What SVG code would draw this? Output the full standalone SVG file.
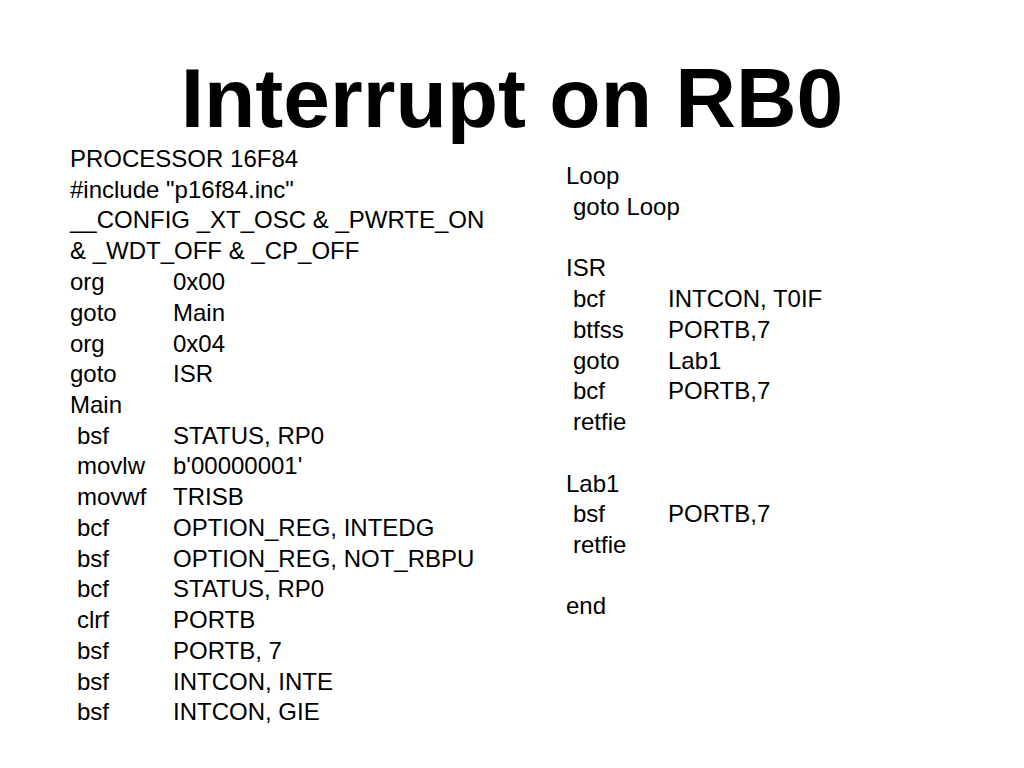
<svg xmlns="http://www.w3.org/2000/svg" width="1024" height="768" viewBox="0 0 1024 768">
<style>
text{font-family:"Liberation Sans",Arial,sans-serif;fill:#000}
.t{font-size:84px;font-weight:bold}
.c{font-size:24px}
</style>
<rect width="1024" height="768" fill="#fff"/>
<text class="t" x="512" y="127" text-anchor="middle">Interrupt on RB0</text>
<g id="left" class="c">
<text class="c" x="70" y="167">PROCESSOR 16F84</text>
<text class="c" x="70" y="198">#include "p16f84.inc"</text>
<text class="c" x="70" y="228">__CONFIG _XT_OSC &amp; _PWRTE_ON</text>
<text class="c" x="70" y="259">&amp; _WDT_OFF &amp; _CP_OFF</text>
<text class="c" x="70" y="290">org</text><text class="c" x="173" y="290">0x00</text>
<text class="c" x="70" y="321">goto</text><text class="c" x="173" y="321">Main</text>
<text class="c" x="70" y="352">org</text><text class="c" x="173" y="352">0x04</text>
<text class="c" x="70" y="382">goto</text><text class="c" x="173" y="382">ISR</text>
<text class="c" x="70" y="413">Main</text>
<text class="c" x="77" y="444">bsf</text><text class="c" x="173" y="444">STATUS, RP0</text>
<text class="c" x="77" y="474">movlw</text><text class="c" x="173" y="474">b'00000001'</text>
<text class="c" x="77" y="505">movwf</text><text class="c" x="173" y="505">TRISB</text>
<text class="c" x="77" y="536">bcf</text><text class="c" x="173" y="536">OPTION_REG, INTEDG</text>
<text class="c" x="77" y="567">bsf</text><text class="c" x="173" y="567">OPTION_REG, NOT_RBPU</text>
<text class="c" x="77" y="597">bcf</text><text class="c" x="173" y="597">STATUS, RP0</text>
<text class="c" x="77" y="628">clrf</text><text class="c" x="173" y="628">PORTB</text>
<text class="c" x="77" y="659">bsf</text><text class="c" x="173" y="659">PORTB, 7</text>
<text class="c" x="77" y="690">bsf</text><text class="c" x="173" y="690">INTCON, INTE</text>
<text class="c" x="77" y="720">bsf</text><text class="c" x="173" y="720">INTCON, GIE</text>
</g>
<g id="right">
<text class="c" x="566" y="184">Loop</text>
<text class="c" x="573" y="215">goto Loop</text>
<text class="c" x="566" y="276">ISR</text>
<text class="c" x="573" y="307">bcf</text><text class="c" x="668" y="307">INTCON, T0IF</text>
<text class="c" x="573" y="338">btfss</text><text class="c" x="668" y="338">PORTB,7</text>
<text class="c" x="573" y="369">goto</text><text class="c" x="668" y="369">Lab1</text>
<text class="c" x="573" y="399">bcf</text><text class="c" x="668" y="399">PORTB,7</text>
<text class="c" x="573" y="430">retfie</text>
<text class="c" x="566" y="492">Lab1</text>
<text class="c" x="573" y="522">bsf</text><text class="c" x="668" y="522">PORTB,7</text>
<text class="c" x="573" y="553">retfie</text>
<text class="c" x="566" y="614">end</text>
</g>
</svg>
